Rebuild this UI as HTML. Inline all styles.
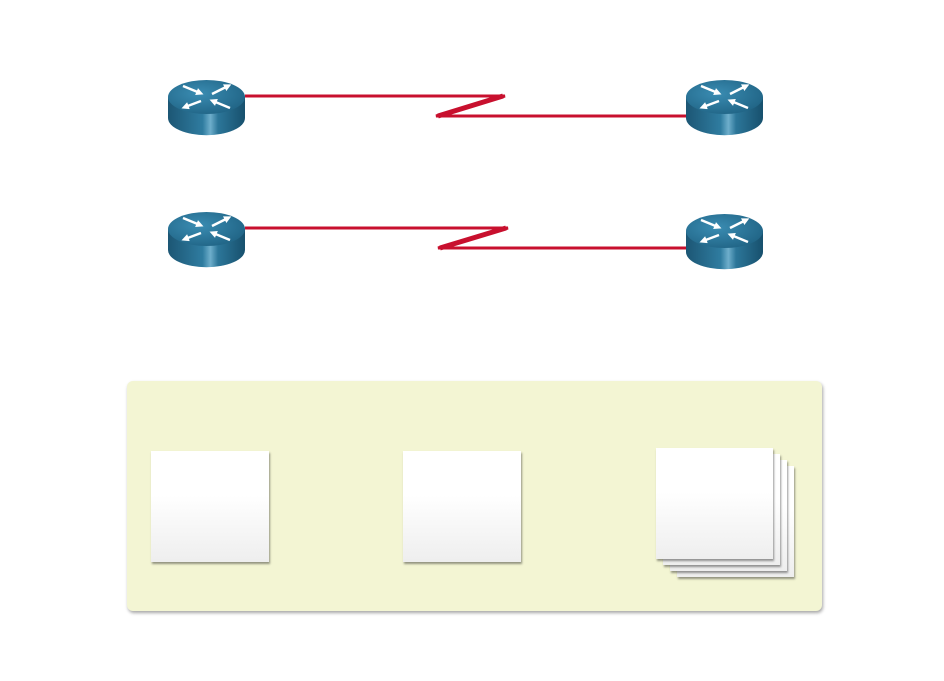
<!DOCTYPE html>
<html><head><style>
body{margin:0;width:944px;height:681px;background:#fff;position:relative;overflow:hidden;font-family:"Liberation Sans",sans-serif}
.panel{position:absolute;left:127px;top:381px;width:695px;height:230px;background:#f3f5d3;border-radius:6px;box-shadow:1px 2px 3px rgba(0,0,0,.35)}
.card{position:absolute;background:linear-gradient(#fff 40%,#eeeeee);box-shadow:1px 2px 2px rgba(0,0,0,.4)}
</style></head><body>
<svg width="944" height="681" style="position:absolute;left:0;top:0">
<defs>
<marker id="ah" viewBox="0 0 10 10" refX="5" refY="5" markerWidth="3" markerHeight="3" orient="auto"><path d="M0,0 L10,5 L0,10 z" fill="#fff"/></marker>
<linearGradient id="body" x1="0" x2="1">
<stop offset="0" stop-color="#1c5674"/><stop offset="0.45" stop-color="#2f7ca0"/><stop offset="0.55" stop-color="#6eaecb"/><stop offset="0.65" stop-color="#2c7699"/><stop offset="1" stop-color="#17506d"/>
</linearGradient>
<radialGradient id="top" cx="0.4" cy="0.4" r="0.7"><stop offset="0" stop-color="#3a8cb2"/><stop offset="1" stop-color="#1f6283"/></radialGradient>
<g id="r">
<path d="M0,0 v21 a38,17 0 0 0 77,0 v-21 z" fill="url(#body)"/>
<ellipse cx="38.5" cy="0" rx="38.5" ry="17" fill="url(#top)"/>
<g stroke="#fff" stroke-width="2.5" fill="none" marker-end="url(#ah)">
<line x1="15" y1="-11" x2="32" y2="-4"/>
<line x1="44" y1="-3" x2="60" y2="-11"/>
<line x1="33" y1="4" x2="17" y2="10"/>
<line x1="62" y1="11" x2="45" y2="4"/>
</g>
</g>
</defs>
<polyline points="245,96 505,96 436,116 686,116" fill="none" stroke="#c8102e" stroke-width="3" stroke-linejoin="miter"/>
<line x1="503" y1="96" x2="438" y2="116" stroke="#c8102e" stroke-width="5"/>
<polyline points="245,228 508,228 438,248 686,248" fill="none" stroke="#c8102e" stroke-width="3" stroke-linejoin="miter"/>
<line x1="506" y1="228" x2="440" y2="248" stroke="#c8102e" stroke-width="5"/>
<use href="#r" x="168" y="97"/>
<use href="#r" x="686" y="97"/>
<use href="#r" x="168" y="229"/>
<use href="#r" x="686" y="231"/>
</svg>
<div class="panel"></div>
<div class="card" style="left:151px;top:451px;width:118px;height:111px"></div>
<div class="card" style="left:403px;top:451px;width:118px;height:111px"></div>
<div class="card" style="left:677px;top:466px;width:117px;height:111px"></div>
<div class="card" style="left:670px;top:460px;width:117px;height:111px"></div>
<div class="card" style="left:663px;top:454px;width:117px;height:111px"></div>
<div class="card" style="left:656px;top:448px;width:117px;height:111px"></div>
</body></html>
